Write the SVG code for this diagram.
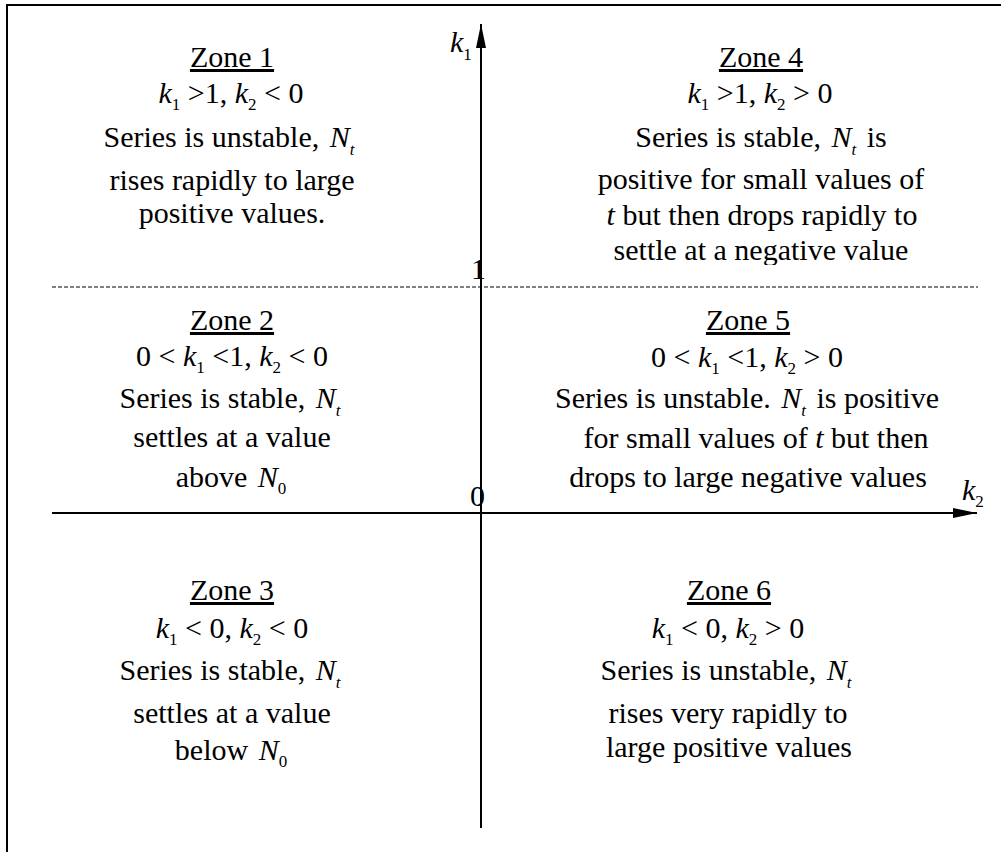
<svg xmlns="http://www.w3.org/2000/svg" width="1001" height="852" viewBox="0 0 1001 852">
<style>
text{font-family:"Liberation Serif","Times New Roman",Times,serif;font-size:30px;fill:#000;text-anchor:middle}
.i{font-style:italic}
.s{font-size:17px}
.u{text-decoration:underline}
.lab{text-anchor:start}
.ax{stroke:#000;stroke-width:2;fill:none}
</style>
<defs>
<marker id="arr" viewBox="0 0 24 10" refX="24" refY="5" markerWidth="24" markerHeight="10" markerUnits="userSpaceOnUse" orient="auto">
<path d="M0,0 L24,5 L0,10 Z" fill="#000"/>
</marker>
<clipPath id="clip4"><rect x="500" y="0" width="501" height="265"/></clipPath>
</defs>
<rect width="1001" height="852" fill="#fff"/>
<g id="frame">
<path d="M7,852 L7,5 L1001,5" class="ax"/>
</g>
<g id="connectors">
<line x1="52" y1="287" x2="978" y2="287" stroke="#000" stroke-width="1" stroke-dasharray="4,2"/>
<line x1="481" y1="828" x2="481" y2="24" class="ax" marker-end="url(#arr)"/>
<line x1="52" y1="513" x2="977" y2="513" class="ax" marker-end="url(#arr)"/>
</g>
<g id="axis-labels">
<text class="lab" x="450" y="52"><tspan class="i">k</tspan><tspan class="s" dy="8">1</tspan></text>
<text class="lab" x="962" y="500"><tspan class="i">k</tspan><tspan class="s" dy="7">2</tspan></text>
<text class="lab" x="471" y="279">1</text>
<text class="lab" x="470" y="506">0</text>
</g>
<g id="zone1">
<text x="232" y="67" class="u">Zone 1</text>
<text x="231" y="103"><tspan class="i">k</tspan><tspan class="s" dy="7">1</tspan><tspan dy="-7"> &gt;1, </tspan><tspan class="i">k</tspan><tspan class="s" dy="7">2</tspan><tspan dy="-7"> &lt; 0</tspan></text>
<text x="229" y="147">Series is unstable, <tspan class="i" dx="3">N</tspan><tspan class="i s" dy="8">t</tspan></text>
<text x="232" y="190">rises rapidly to large</text>
<text x="232" y="223">positive values.</text>
</g>
<g id="zone4" clip-path="url(#clip4)">
<text x="761" y="67" class="u">Zone 4</text>
<text x="760" y="103"><tspan class="i">k</tspan><tspan class="s" dy="7">1</tspan><tspan dy="-7"> &gt;1, </tspan><tspan class="i">k</tspan><tspan class="s" dy="7">2</tspan><tspan dy="-7"> &gt; 0</tspan></text>
<text x="761" y="147">Series is stable, <tspan class="i" dx="3">N</tspan><tspan class="i s" dy="8">t</tspan><tspan dy="-8" dx="3"> is</tspan></text>
<text x="761" y="189">positive for small values of</text>
<text x="762" y="225"><tspan class="i">t</tspan> but then drops rapidly to</text>
<text x="761" y="260">settle at a negative value</text>
</g>
<g id="zone2">
<text x="232" y="330" class="u">Zone 2</text>
<text x="232" y="366">0 &lt; <tspan class="i">k</tspan><tspan class="s" dy="7">1</tspan><tspan dy="-7"> &lt;1, </tspan><tspan class="i">k</tspan><tspan class="s" dy="7">2</tspan><tspan dy="-7"> &lt; 0</tspan></text>
<text x="230" y="408">Series is stable, <tspan class="i" dx="3">N</tspan><tspan class="i s" dy="8">t</tspan></text>
<text x="232" y="447">settles at a value</text>
<text x="231" y="487">above <tspan class="i" dx="3">N</tspan><tspan class="s" dy="7">0</tspan></text>
</g>
<g id="zone5">
<text x="748" y="330" class="u">Zone 5</text>
<text x="747" y="367">0 &lt; <tspan class="i">k</tspan><tspan class="s" dy="7">1</tspan><tspan dy="-7"> &lt;1, </tspan><tspan class="i">k</tspan><tspan class="s" dy="7">2</tspan><tspan dy="-7"> &gt; 0</tspan></text>
<text x="747" y="408">Series is unstable. <tspan class="i" dx="3">N</tspan><tspan class="i s" dy="8">t</tspan><tspan dy="-8" dx="3"> is positive</tspan></text>
<text x="756" y="448">for small values of <tspan class="i">t</tspan> but then</text>
<text x="748" y="487">drops to large negative values</text>
</g>
<g id="zone3">
<text x="232" y="600" class="u">Zone 3</text>
<text x="232" y="638"><tspan class="i">k</tspan><tspan class="s" dy="7">1</tspan><tspan dy="-7"> &lt; 0, </tspan><tspan class="i">k</tspan><tspan class="s" dy="7">2</tspan><tspan dy="-7"> &lt; 0</tspan></text>
<text x="230" y="680">Series is stable, <tspan class="i" dx="3">N</tspan><tspan class="i s" dy="8">t</tspan></text>
<text x="232" y="723">settles at a value</text>
<text x="231" y="760">below <tspan class="i" dx="3">N</tspan><tspan class="s" dy="7">0</tspan></text>
</g>
<g id="zone6">
<text x="729" y="600" class="u">Zone 6</text>
<text x="728" y="638"><tspan class="i">k</tspan><tspan class="s" dy="7">1</tspan><tspan dy="-7"> &lt; 0, </tspan><tspan class="i">k</tspan><tspan class="s" dy="7">2</tspan><tspan dy="-7"> &gt; 0</tspan></text>
<text x="726" y="680">Series is unstable, <tspan class="i" dx="3">N</tspan><tspan class="i s" dy="8">t</tspan></text>
<text x="728" y="723">rises very rapidly to</text>
<text x="729" y="757">large positive values</text>
</g>
</svg>
